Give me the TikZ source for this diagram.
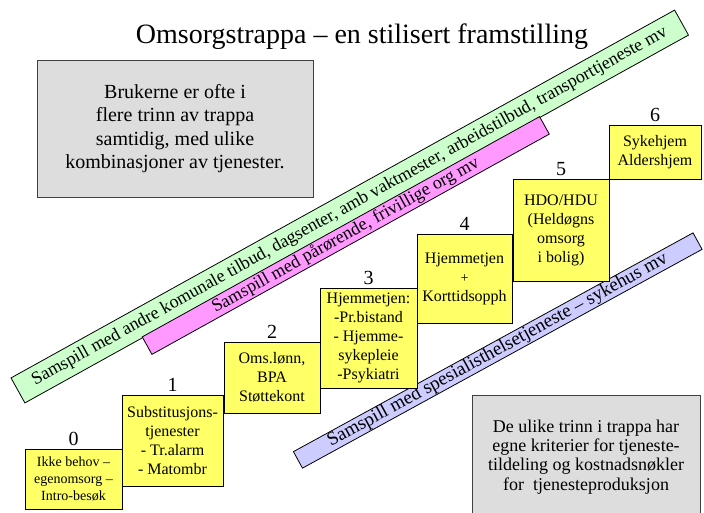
\documentclass[tikz,border=0pt]{standalone}
\usepackage{fontspec}
\setmainfont{Liberation Serif}
\usetikzlibrary{shadows}
\definecolor{stepyellow}{HTML}{FFFF66}
\definecolor{bandgreen}{HTML}{CCFFCC}
\definecolor{bandpink}{HTML}{FF99FF}
\definecolor{bandblue}{HTML}{CCCCFF}
\definecolor{boxgray}{HTML}{DDDDDD}
\begin{document}
\begin{tikzpicture}[x=1pt,y=-1pt,
  ybox/.style={draw=black, line width=0.8pt, fill=stepyellow, align=center, inner sep=0pt,
    drop shadow={shadow xshift=1.2pt, shadow yshift=-1.2pt, fill=black!45, opacity=1}},
  gbox/.style={draw=black!75, line width=0.8pt, fill=boxgray, align=center, inner sep=0pt,
    drop shadow={shadow xshift=1.2pt, shadow yshift=-1.2pt, fill=black!45, opacity=1}},
  band/.style={draw=black, line width=0.8pt, inner sep=0pt, align=center},
  stepnum/.style={anchor=south, inner sep=0pt, font=\fontsize{20}{20}\selectfont},
  boxtext/.style={font=\fontsize{16}{19}\selectfont}
]
\useasboundingbox (0,0) rectangle (704,512);

% title
\node[font=\fontsize{28}{28}\selectfont] (title) at (362,37) {Omsorgstrappa -- en stilisert framstilling};

% gray info boxes
\node[gbox, minimum width=276pt, minimum height=137pt, font=\fontsize{20}{23.5}\selectfont] (info1) at (175,128.5)
  {Brukerne er ofte i\\flere trinn av trappa\\samtidig, med ulike\\kombinasjoner av tjenester.};
\node[gbox, minimum width=228pt, minimum height=124pt, font=\fontsize{18}{19.3}\selectfont] (info2) at (586,457)
  {De ulike trinn i trappa har\\egne kriterier for tjeneste-\\tildeling og kostnadsnøkler\\for\ \ tjenesteproduksjon};

% bands
\node[band, fill=bandgreen, rotate=29, minimum width=758.7pt, minimum height=28.6pt,
  font=\fontsize{18}{18}\selectfont] (bgreen) at (349.75,206.5)
  {Samspill med andre komunale tilbud, dagsenter, amb vaktmester, arbeidstilbud, transporttjeneste mv};
\node[band, fill=bandpink, rotate=29, minimum width=454.3pt, minimum height=20pt,
  font=\fontsize{18}{18}\selectfont] (bpink) at (345.75,235.5)
  {Samspill med pårørende, frivillige org mv};
\node[band, fill=bandblue, rotate=28.7, minimum width=455.6pt, minimum height=18.8pt,
  font=\fontsize{19}{19}\selectfont] (bblue) at (497.75,350.5)
  {Samspill med spesialisthelsetjeneste -- sykehus mv};

% steps
\node[ybox, minimum width=97pt, minimum height=60pt, font=\fontsize{14}{16.7}\selectfont] (s0) at (73.5,479)
  {Ikke behov --\\egenomsorg --\\Intro-besøk};
\node[ybox, boxtext, minimum width=101pt, minimum height=91pt] (s1) at (172.5,440.5)
  {Substitusjons-\\tjenester\\- Tr.alarm\\- Matombr};
\node[ybox, boxtext, minimum width=96pt, minimum height=71pt] (s2) at (272,377.5)
  {Oms.lønn,\\BPA\\Støttekont};
\node[ybox, boxtext, minimum width=97pt, minimum height=100pt] (s3) at (368.5,338)
  {Hjemmetjen:\\-Pr.bistand\\- Hjemme-\\sykepleie\\-Psykiatri};
\node[ybox, boxtext, minimum width=95pt, minimum height=89pt] (s4) at (464.5,278.5)
  {Hjemmetjen\\{\fontsize{14}{19}\selectfont +}\\Korttidsopph};
\node[ybox, boxtext, minimum width=96pt, minimum height=102pt] (s5) at (561,230)
  {HDO/HDU\\(Heldøgns\\omsorg\\i bolig)};
\node[ybox, boxtext, minimum width=92pt, minimum height=54pt] (s6) at (655,152)
  {Sykehjem\\Aldershjem};

% step numbers
\foreach \s/\n in {s0/0,s1/1,s2/2,s3/3,s4/4,s5/5,s6/6}
  \node[stepnum] (n\n) at ([yshift=3pt]\s.north) {\n};
\end{tikzpicture}
\end{document}
